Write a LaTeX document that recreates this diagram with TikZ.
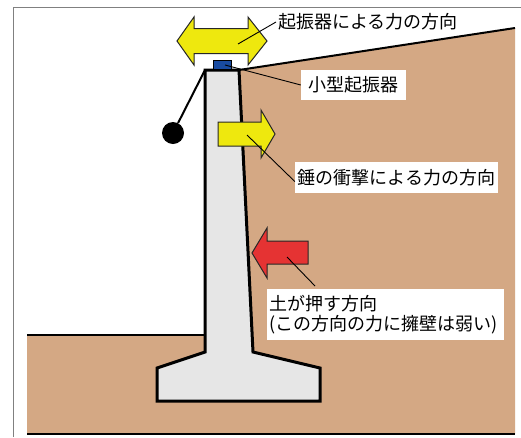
\documentclass[tikz,border=0pt]{standalone}
\usepackage{fontspec}
\newfontfamily\jpfont{Noto Sans CJK JP}
\definecolor{soil}{RGB}{212,168,132}
\definecolor{concrete}{RGB}{230,230,230}
\definecolor{arrowyellow}{RGB}{238,232,14}
\definecolor{arrowred}{RGB}{229,51,51}
\definecolor{vibblue}{RGB}{25,75,160}
\definecolor{framegray}{RGB}{128,128,128}
\begin{document}
\begin{tikzpicture}[x=1pt,y=-1pt,
  tagbox/.style={fill=white, font=\jpfont\fontsize{18}{20}\selectfont, inner xsep=2pt, inner ysep=2pt},
  leader/.style={draw=black, line width=0.9pt},
  forcearrow/.style={draw=black!85, line width=1pt, line join=miter},
  edge line/.style={draw=black, line width=2pt},
  wall/.style={draw=black, line width=3pt, fill=concrete, line join=miter}]
\useasboundingbox (0,0) rectangle (521,437);
\fill[white] (0,0) rectangle (521,437);

% frame
\draw[framegray, line width=1pt] (13,437) -- (13,7) -- (521,7);

% soil behind the wall and in front of it
\fill[soil] (239,70) -- (515,28) -- (515,434) -- (27,434) -- (27,335) -- (205,335) -- (205,70) -- cycle;
\draw[edge line] (239,70) -- (515,28);
\draw[edge line] (27,335) -- (205,335);
\draw[edge line, line width=2.5pt] (27,434) -- (515,434);

% retaining wall
\draw[wall] (205,70) -- (239,70) -- (253,352) -- (320,368) -- (320,401)
  -- (157,401) -- (157,368) -- (205,352) -- cycle;
\coordinate (walltop) at (205,70);

% pendulum weight
\node[circle, fill=black, minimum size=22pt, inner sep=0pt] (ball) at (173,133) {};
\draw[black, line width=2pt] (walltop) -- (ball);

% small vibrator
\draw[fill=vibblue, draw=black, line width=1pt] (213,60) rectangle (231,69);
\coordinate (vib) at (225,65);

% two-way arrow of the vibrator force
\draw[forcearrow, fill=arrowyellow] (177,41) -- (194,17) -- (194,28.5) -- (248,28.5) -- (248,17)
  -- (267,41) -- (248,65) -- (248,53.5) -- (194,53.5) -- (194,65) -- cycle;
\coordinate (vibforce) at (238,44);

% arrow of the weight impact
\draw[forcearrow, fill=arrowyellow] (218,122) -- (261,122) -- (261,110) -- (275,134)
  -- (261,158) -- (261,146) -- (218,146) -- cycle;
\coordinate (impact) at (247,135);

% arrow of the earth pressure
\draw[forcearrow, fill=arrowred] (252,253) -- (267,228) -- (267,241) -- (308,241)
  -- (308,264) -- (267,264) -- (267,278) -- cycle;
\coordinate (pressure) at (287,257);

% labels
\node[tagbox, fill=none, anchor=west] (lblvib) at (276,22) {起振器による力の方向};
\node[tagbox, minimum width=105pt, minimum height=30pt] (lblsmall) at (353.5,85) {小型起振器};
\node[tagbox, minimum width=203pt, minimum height=31pt] (lblimpact) at (396.5,177.5) {錘の衝撃による力の方向};
\node[tagbox, anchor=north west, align=left, text width=233pt, minimum height=51pt] (lblpress) at (267,289)
  {土が押す方向\\(この方向の力に擁壁は弱い)};
\coordinate (pressend) at (315,286);

% leader lines
\draw[leader] (vibforce) -- (lblvib.west);
\draw[leader] (vib) -- (lblsmall.west);
\draw[leader] (impact) -- ([yshift=-4pt]lblimpact.west);
\draw[leader] (pressure) -- (pressend);
\end{tikzpicture}
\end{document}
